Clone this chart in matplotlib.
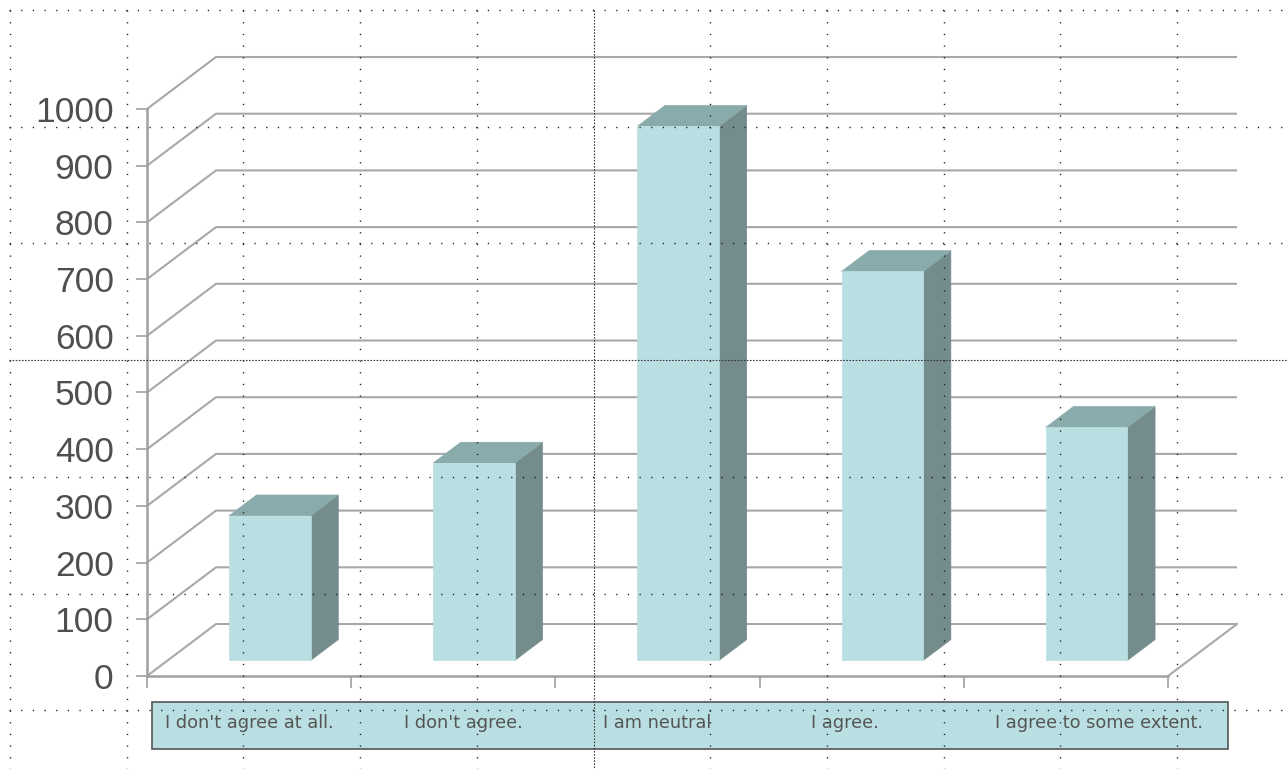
import matplotlib
matplotlib.use("Agg")
import matplotlib.pyplot as plt
from matplotlib.patches import Polygon, Rectangle
from matplotlib.lines import Line2D
from matplotlib.transforms import blended_transform_factory

# survey answers and how many people gave each one
categories = ["I don't agree at all.", "I don't agree.", "I am neutral",
              "I agree.", "I agree to some extent."]
counts = [255, 348, 942, 686, 411]
y_ticks = [0, 100, 200, 300, 400, 500, 600, 700, 800, 900, 1000]

W, H = 1288, 769
DPI = 100

# depth of the pseudo-3d box in data units (x: categories, y: counts)
DX, DY = 0.338, 91.7
BAR_W = 0.4
F0, F1 = 0.3, 0.7  # front / back of each bar as a fraction of the depth

# small sideways shifts of the category captions inside the box
label_shift = [0.0, 0.05, 0.0, -0.08, 0.16]

FRONT = "#badfe2"
TOP = "#8aabab"
SIDE = "#748c8c"
GRID = "#a8a8a8"
AXIS = "#a0a0a0"
TEXT = "#4f4f4f"

fig = plt.figure(figsize=(W / DPI, H / DPI), dpi=DPI)
fig.patch.set_facecolor("white")


def px(x, y):
    # pixel position (from top-left) to figure fraction
    return x / W, 1 - y / H


ax = fig.add_axes([147 / W, 93 / H, 1021 / W, 567 / H])
ax.set_xlim(0, len(categories))
ax.set_ylim(0, 1000)
ax.patch.set_alpha(0)

# back wall, side wall and floor
for v in y_ticks:
    ax.plot([0, DX, len(categories) + DX], [v, v + DY, v + DY],
            color=GRID, lw=1.5, clip_on=False, zorder=1, solid_capstyle="butt")
ax.plot([len(categories), len(categories) + DX], [0, DY],
        color=GRID, lw=1.5, clip_on=False, zorder=1)

# bars: front face, top and right side
for i, v in enumerate(counts):
    x0 = i + 0.5 - BAR_W / 2
    x1 = i + 0.5 + BAR_W / 2
    ox0, oy0 = F0 * DX, F0 * DY
    ox1, oy1 = F1 * DX, F1 * DY
    front = [(x0 + ox0, oy0), (x1 + ox0, oy0), (x1 + ox0, oy0 + v), (x0 + ox0, oy0 + v)]
    top = [(x0 + ox0, oy0 + v), (x1 + ox0, oy0 + v), (x1 + ox1, oy1 + v), (x0 + ox1, oy1 + v)]
    side = [(x1 + ox0, oy0), (x1 + ox1, oy1), (x1 + ox1, oy1 + v), (x1 + ox0, oy0 + v)]
    for poly, col in ((side, SIDE), (top, TOP), (front, FRONT)):
        ax.add_patch(Polygon(poly, closed=True, facecolor=col, edgecolor=col,
                             lw=0.5, clip_on=False, zorder=3))

ax.set_yticks(y_ticks)
ax.set_xticks(range(len(categories) + 1))
ax.set_xticklabels([])
for s in ("top", "right"):
    ax.spines[s].set_visible(False)
for s in ("left", "bottom"):
    ax.spines[s].set_color(AXIS)
    ax.spines[s].set_linewidth(1.8)
ax.tick_params(axis="y", direction="out", length=8, width=1.2, color=AXIS,
               pad=16, labelsize=25.5, labelcolor=TEXT)
ax.tick_params(axis="x", direction="out", length=8.6, width=1.2, color=AXIS)
for lab in ax.get_yticklabels():
    lab.set_fontfamily("Liberation Sans")

# category labels in a box under the floor
bx0, by0 = px(152, 749)
bx1, by1 = px(1228, 702)
fig.add_artist(Rectangle((bx0, by0), bx1 - bx0, by1 - by0, transform=fig.transFigure,
                         facecolor=FRONT, edgecolor="#555555", lw=1.2, zorder=4))
label_tr = blended_transform_factory(ax.transData, fig.transFigure)
for i, name in enumerate(categories):
    fig.text(i + 0.5 + label_shift[i], 1 - 723 / H, name, transform=label_tr,
             ha="center", va="center", fontsize=12.8, color="#555555",
             family="DejaVu Sans", zorder=5)

# dotted layout guides over the whole picture
step = 116.7
plain = dict(color="#1a1a1a", lw=1.0, dashes=(0.9, 7.5), zorder=10)
dense = dict(color="#333333", lw=0.8, dashes=(1.4, 1.4), zorder=10)
for k in range(11):
    x = 10 + k * step
    fig.add_artist(Line2D([x / W, x / W], [1 - 10 / H, 0], transform=fig.transFigure,
                          **(dense if k == 5 else plain)))
for k in range(7):
    y = 10 + k * step
    fig.add_artist(Line2D([9 / W, 1], [1 - y / H, 1 - y / H], transform=fig.transFigure,
                          **(dense if k == 3 else plain)))

fig.savefig("out.png", dpi=DPI, facecolor="white")
